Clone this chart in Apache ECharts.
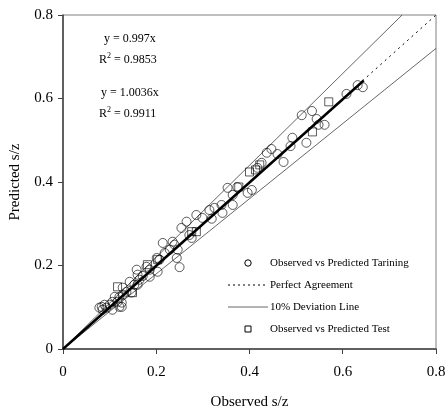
<!DOCTYPE html>
<html><head><meta charset="utf-8">
<script src="https://cdn.jsdelivr.net/npm/echarts@6/dist/echarts.min.js"></script>
<style>html,body{margin:0;padding:0;background:#fff}#c{width:446px;height:412px}</style>
</head><body><div id="c"></div>
<script>
var ticks = [0, 0.2, 0.4, 0.6, 0.8];
var trainX = [0.632,0.643,0.608,0.512,0.534,0.544,0.548,0.561,0.492,0.488,0.522,0.447,0.437,0.460,0.473,0.426,0.417,
  0.353,0.374,0.396,0.405,0.364,0.340,0.364,0.342,0.325,0.314,0.286,0.299,0.319,0.265,0.254,0.271,0.276,
  0.214,0.235,0.239,0.246,0.229,0.218,0.207,0.201,0.244,0.250,0.179,0.186,0.203,0.158,0.160,0.171,0.186,0.164,
  0.143,0.153,0.160,0.128,0.136,0.147,0.111,0.121,0.128,0.106,0.117,0.126,0.121,0.100,0.083,0.078,0.085,0.093,0.106,0.126,0.089];
var trainY = [0.632,0.627,0.611,0.560,0.570,0.551,0.537,0.537,0.506,0.486,0.494,0.479,0.470,0.467,0.448,0.446,0.434,
  0.386,0.388,0.374,0.381,0.369,0.345,0.345,0.326,0.338,0.333,0.321,0.314,0.312,0.305,0.290,0.273,0.266,
  0.254,0.257,0.250,0.238,0.238,0.230,0.214,0.218,0.218,0.196,0.197,0.190,0.185,0.190,0.178,0.175,0.173,0.166,
  0.161,0.154,0.154,0.147,0.137,0.135,0.125,0.125,0.130,0.113,0.113,0.111,0.101,0.106,0.101,0.099,0.094,0.099,0.094,0.101,0.106];
var testX = [0.400,0.413,0.570,0.535,0.276,0.203,0.181,0.117,0.149,0.422,0.377,0.286];
var testY = [0.424,0.429,0.592,0.520,0.281,0.214,0.202,0.149,0.135,0.441,0.388,0.281];
var perfectX = [0, 0.8], perfectY = [0, 0.8];
var devX = [0.7273, 0, 0.8], devY = [0.8, 0, 0.72];
var fitX = [0, 0.645], fitY = [0, 0.643];
var eqLines = ['y = 0.997x', '0.9853', 'y = 1.0036x', '0.9911'];
var legendNames = ['Observed vs Predicted Tarining', 'Perfect Agreement', '10% Deviation Line', 'Observed vs Predicted Test'];

function zip(a, b) { return a.map(function (v, i) { return [v, b[i]]; }); }
var serif = 'Liberation Serif';
var rich = { r: { fontFamily: serif, fontSize: 12, verticalAlign: 'bottom' }, s: { fontFamily: serif, fontSize: 8, verticalAlign: 'top', padding: [0, 0, 6, 0] } };
var lgTop = 263, lgGap = 22, lgText = 270;
var legendGraphics = [
  { type: 'circle', shape: { cx: 248, cy: lgTop, r: 3.2 }, style: { fill: '#fff', stroke: '#000', lineWidth: 1 } },
  { type: 'line', shape: { x1: 228, y1: lgTop + lgGap, x2: 268, y2: lgTop + lgGap }, style: { stroke: '#000', lineWidth: 1, lineDash: [2, 3] } },
  { type: 'line', shape: { x1: 228, y1: lgTop + 2 * lgGap, x2: 268, y2: lgTop + 2 * lgGap }, style: { stroke: '#404040', lineWidth: 0.8 } },
  { type: 'rect', shape: { x: 245, y: lgTop + 3 * lgGap - 3, width: 6, height: 6 }, style: { fill: '#fff', stroke: '#000', lineWidth: 1 } }
];
legendNames.forEach(function (n, i) {
  legendGraphics.push({ type: 'text', x: lgText, y: lgTop + i * lgGap, style: { text: n, font: '11px "Liberation Serif"', fill: '#000', verticalAlign: 'middle' } });
});

var chart = echarts.init(document.getElementById('c'));
chart.setOption({
  animation: false,
  backgroundColor: '#fff',
  grid: { left: 63, right: 10, top: 15, bottom: 63, outerBoundsMode: 'none', containLabel: false, show: true, borderColor: '#808080', borderWidth: 1 },
  xAxis: {
    type: 'value', min: 0, max: 0.8, interval: 0.2,
    name: 'Observed s/z', nameLocation: 'middle', nameGap: 46,
    nameTextStyle: { fontFamily: serif, fontSize: 15, color: '#000' },
    axisLine: { onZero: false, lineStyle: { color: '#404040', width: 1.5 } },
    axisTick: { show: true, length: 5, lineStyle: { color: '#404040' } },
    axisLabel: { fontFamily: serif, fontSize: 15, color: '#000', margin: 16, formatter: function (v) { return String(+v.toFixed(1)); } },
    splitLine: { show: false }
  },
  yAxis: {
    type: 'value', min: 0, max: 0.8, interval: 0.2,
    name: 'Predicted s/z', nameLocation: 'middle', nameGap: 40,
    nameTextStyle: { fontFamily: serif, fontSize: 15, color: '#000' },
    axisLine: { onZero: false, lineStyle: { color: '#404040', width: 1.5 } },
    axisTick: { show: true, length: 5, lineStyle: { color: '#404040' } },
    axisLabel: { fontFamily: serif, fontSize: 15, color: '#000', margin: 10, formatter: function (v) { return String(+v.toFixed(1)); } },
    splitLine: { show: false }
  },
  series: [
    { name: legendNames[2], type: 'line', data: zip(devX, devY), symbol: 'none', z: 1,
      lineStyle: { color: '#404040', width: 0.8 } },
    { name: legendNames[1], type: 'line', data: zip(perfectX, perfectY), symbol: 'none', z: 2,
      lineStyle: { color: '#000', width: 1, type: [2, 4] } },
    { name: legendNames[0], type: 'scatter', data: zip(trainX, trainY), symbol: 'circle', symbolSize: 9, z: 3,
      itemStyle: { color: 'rgba(255,255,255,0)', borderColor: '#000', borderWidth: 0.8 } },
    { name: legendNames[3], type: 'scatter', data: zip(testX, testY), symbol: 'rect', symbolSize: 8, z: 3,
      itemStyle: { color: 'rgba(255,255,255,0)', borderColor: '#000', borderWidth: 0.8 } },
    { name: 'fit', type: 'line', data: zip(fitX, fitY), symbol: 'none', z: 4,
      lineStyle: { color: '#000', width: 2.5 } }
  ],
  graphic: [
    { type: 'text', left: 104, top: 33, style: { text: eqLines[0], font: '12px "Liberation Serif"', fill: '#000' } },
    { type: 'text', left: 99, top: 52, style: { text: '{r|R}{s|2}{r| = ' + eqLines[1] + '}', rich: rich, fill: '#000' } },
    { type: 'text', left: 101, top: 87, style: { text: eqLines[2], font: '12px "Liberation Serif"', fill: '#000' } },
    { type: 'text', left: 99, top: 106, style: { text: '{r|R}{s|2}{r| = ' + eqLines[3] + '}', rich: rich, fill: '#000' } }
  ].concat(legendGraphics)
});
</script></body></html>
